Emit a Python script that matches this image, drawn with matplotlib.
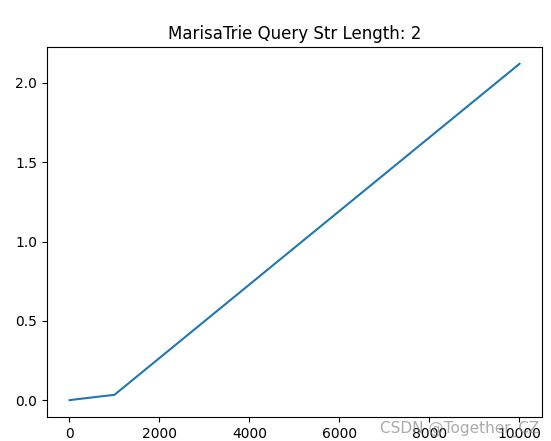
import matplotlib
matplotlib.use("Agg")
import matplotlib.pyplot as plt

# query counts and time
sizes = [1, 10, 100, 1000, 10000]
times = [0.0001, 0.0005, 0.004, 0.034, 2.12]

fig = plt.figure(figsize=(5.51, 4.41), dpi=100)
ax = fig.add_axes([47 / 551, 24 / 441, 495 / 551, 370 / 441])
ax.plot(sizes, times)
ax.set_title('MarisaTrie Query Str Length: 2')

# watermark
fig.text(0.69, 0.018, 'CSDN @Together_CZ', color='#888888', alpha=0.7, fontsize=11)

fig.savefig('out.png', dpi=100)
